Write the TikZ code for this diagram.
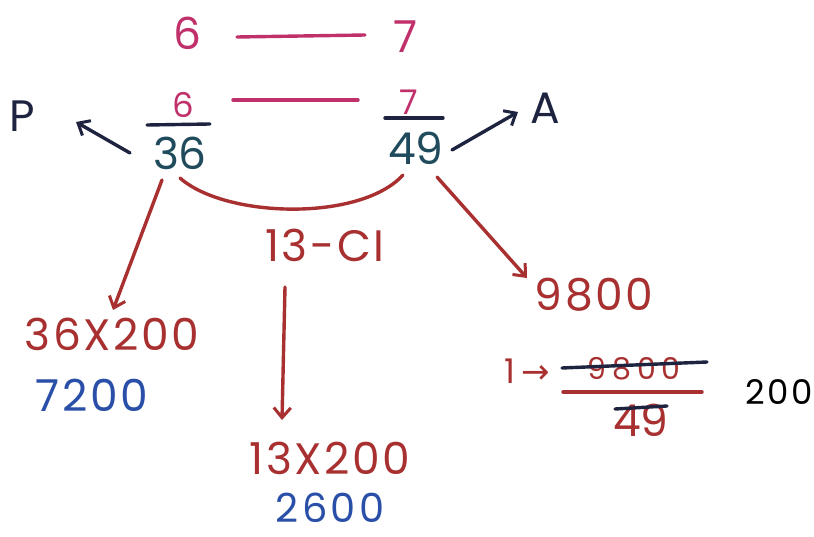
\documentclass[tikz,border=0pt]{standalone}
\usepackage{fontspec}
\setmainfont{Poppins}
\newfontfamily\symfont{DejaVu Sans}
\usetikzlibrary{arrows.meta}
\definecolor{mag}{HTML}{C0306A}
\definecolor{teal}{HTML}{1F4B5C}
\definecolor{rbr}{HTML}{A83030}
\definecolor{blu}{HTML}{2A4FA8}
\definecolor{nav}{HTML}{1E2440}
\tikzset{
  txt/.style={inner sep=0pt, font=\fontsize{44}{48}\selectfont},
  sml/.style={inner sep=0pt, font=\fontsize{34}{38}\selectfont},
  wide/.style={inner sep=0pt, font=\fontsize{44}{48}\selectfont\addfontfeatures{LetterSpace=6}},
  ln/.style={line width=3.4pt, line cap=round},
  arr/.style={ln, -{Straight Barb[length=10pt,width=17pt,line width=3pt]}},
}
\begin{document}
\begin{tikzpicture}[x=1pt,y=-1pt]
\useasboundingbox[fill=white] (0,0) rectangle (814,537);
% top row
\node[txt,mag] (s6) at (187,33) {6};
\node[txt,mag] (s7) at (406,37) {7};
\draw[ln,mag] (237,37) coordinate (l1a) -- (365,35) coordinate (l1b);
% fraction row
\node[sml,mag] (f6) at (183,105) {6};
\node[sml,mag] (f7) at (409,102) {7};
\draw[ln,mag] (233,100) coordinate (l2a) -- (358,100) coordinate (l2b);
\draw[ln,nav] (147,125) coordinate (b1a) -- (210,124) coordinate (b1b);
\draw[ln,nav] (385,118) coordinate (b2a) -- (443,118) coordinate (b2b);
\node[txt,teal] (d36) at (180,153) {36};
\node[txt,teal] (d49) at (416,148) {49};
% P and A
\node[txt,nav] (P) at (22,116) {P};
\node[txt,nav] (A) at (545,108) {A};
\draw[arr,nav] (130,153) coordinate (pst) -- (76,122) coordinate (pend);
\draw[arr,nav] (452,150) coordinate (ast) -- (518,112) coordinate (aend);
% curve
\draw[ln,rbr] (180,178) coordinate (ca) .. controls (225,218) and (360,222) .. (403,175) coordinate (cb);
\node[wide,rbr] (ci) at (325,245) {13-CI};
% left branch
\node[wide,rbr] (m1) at (112,334) {36X200};
\node[wide,blu] (r1) at (92,395) {7200};
\draw[arr,rbr] (162,180) coordinate (la) -- (113,310) coordinate (lb);
% middle branch
\node[wide,rbr] (m2) at (330,458) {13X200};
\node[wide,blu,font=\fontsize{40}{44}\selectfont\addfontfeatures{LetterSpace=8},anchor=base] (r2) at (330,522) {2600};
\draw[arr,rbr] (285,287) coordinate (ma) -- (282,420) coordinate (mb);
% right branch
\node[wide,rbr] (n98) at (594,295) {9800};
\draw[arr,rbr] (437,177) coordinate (ra) -- (527,278) coordinate (rb);
\node[sml,rbr] (one) at (527,371) {1\,{\symfont\fontsize{34}{38}\selectfont→}};
\node[sml,rbr,font=\fontsize{30}{34}\selectfont\addfontfeatures{LetterSpace=20}] (num) at (634,369) {9800};
\node[txt,rbr] (den) at (641,420) {49};
\draw[ln,rbr] (563,392) coordinate (fa) -- (702,392) coordinate (fb);
\draw[ln,nav] (562,368) coordinate (sa) -- (707,362) coordinate (sb);
\draw[ln,nav] (615,409) coordinate (ta) -- (667,406) coordinate (tb);
\node[sml,black,font=\fontsize{34}{38}\selectfont\addfontfeatures{LetterSpace=8}] (res) at (779,392) {200};
\end{tikzpicture}
\end{document}
